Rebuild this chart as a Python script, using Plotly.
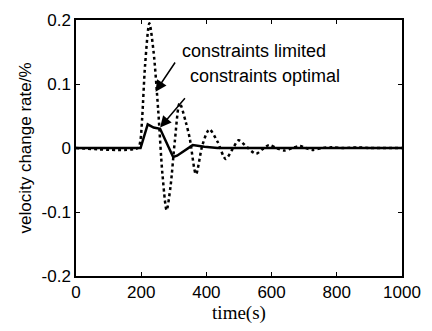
import plotly.graph_objects as go

# constraints limited (dotted)
t_limited = [0, 190, 197, 203, 212, 225, 238, 252, 265, 278, 290, 303, 318, 337, 349, 368,
             388, 409, 434, 459, 480, 499, 525, 552, 572, 592, 615, 639, 663, 687, 705,
             725, 755, 785, 820, 865, 900, 1000]
v_limited = [0, 0, 0.01, 0.047, 0.13, 0.195, 0.15, 0.06, -0.04, -0.097, -0.06, 0.01, 0.07,
             0.04, 0.015, -0.041, 0.005, 0.029, 0.01, -0.017, -0.002, 0.012, 0.001, -0.009,
             -0.002, 0.0045, 0, -0.004, 0, 0.003, 0, -0.003, 0, 0.001, 0, 0.001, 0, 0]

# constraints optimal (solid)
t_optimal = [0, 198, 220, 238, 258, 298, 310, 358, 394, 434, 1000]
v_optimal = [0, 0, 0.037, 0.032, 0.030, -0.014, -0.012, 0.0045, 0.002, 0, 0]

x_ticks = [0, 200, 400, 600, 800, 1000]
y_ticks = [-0.2, -0.1, 0, 0.1, 0.2]
y_tick_text = ["-0.2", "-0.1", "0", "0.1", "0.2"]

fig = go.Figure()
fig.add_trace(go.Scatter(x=t_limited, y=v_limited, mode="lines",
                         line=dict(color="black", width=2.5, dash="3px,3px", shape="spline", smoothing=0.8),
                         showlegend=False))
fig.add_trace(go.Scatter(x=t_optimal, y=v_optimal, mode="lines",
                         line=dict(color="black", width=2.5),
                         showlegend=False))

font_main = "Liberation Sans, Arial, sans-serif"

annotations = [
    dict(x=319, y=0.1515, xref="x", yref="y", text="constraints limited", showarrow=False,
         xanchor="left", yanchor="middle", font=dict(family=font_main, size=18, color="black")),
    dict(x=345, y=0.112, xref="x", yref="y", text="constraints optimal", showarrow=False,
         xanchor="left", yanchor="middle", font=dict(family=font_main, size=18, color="black")),
    dict(x=244, y=0.088, ax=307, ay=0.136, xref="x", yref="y", axref="x", ayref="y", text="",
         showarrow=True, arrowhead=2, arrowsize=1.5, arrowwidth=1.5, arrowcolor="black"),
    dict(x=258, y=0.032, ax=338, ay=0.080, xref="x", yref="y", axref="x", ayref="y", text="",
         showarrow=True, arrowhead=2, arrowsize=1.5, arrowwidth=1.5, arrowcolor="black"),
]

fig.update_layout(
    width=432, height=331,
    margin=dict(l=76, r=24, t=11, b=55),
    paper_bgcolor="white", plot_bgcolor="white",
    font=dict(family=font_main, size=17, color="black"),
    annotations=annotations,
)
fig.update_xaxes(range=[0, 1000], tickvals=x_ticks, ticks="inside", ticklen=4,
                 showline=True, linecolor="black", linewidth=1.5, mirror="ticks",
                 showgrid=False, zeroline=False, tickcolor="black",
                 title=dict(text="time(s)", font=dict(family="Liberation Serif, Times New Roman, serif", size=19),
                            standoff=4))
fig.update_yaxes(range=[-0.2, 0.2], tickvals=y_ticks, ticktext=y_tick_text, ticks="inside", ticklen=4,
                 showline=True, linecolor="black", linewidth=1.5, mirror="ticks",
                 showgrid=False, zeroline=False, tickcolor="black",
                 title=dict(text="velocity change rate/%", font=dict(family=font_main, size=17), standoff=6))

fig.write_html("out.html")
